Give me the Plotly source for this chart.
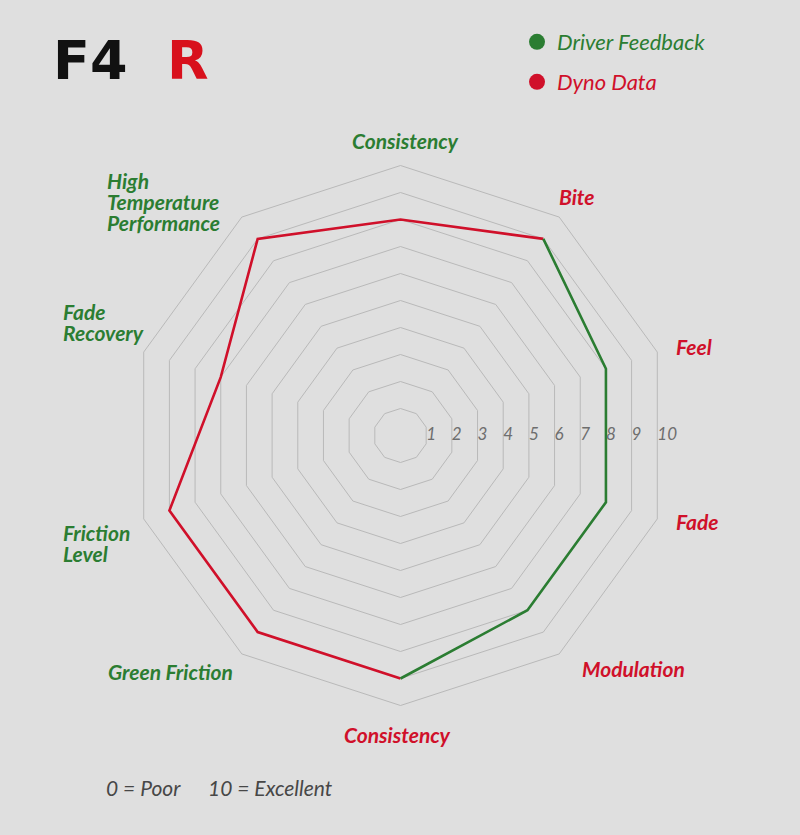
import math
import plotly.graph_objects as go

# spoke keys clockwise from the top, and the text shown for each
axis_keys = ["cons_top", "bite", "feel", "fade", "modulation",
             "cons_bottom", "green_friction", "friction_level",
             "fade_recovery", "high_temp"]
axis_labels = [["Consistency"], ["Bite"], ["Feel"], ["Fade"], ["Modulation"],
               ["Consistency"], ["Green Friction"], ["Friction", "Level"],
               ["Fade", "Recovery"], ["High", "Temperature", "Performance"]]
label_is_green = [True, False, False, False, False,
                  False, True, True, True, True]

# series values
driver_theta = ["bite", "feel", "fade", "modulation", "cons_bottom"]
driver_r = [9, 8, 8, 8, 9]
dyno_theta = ["cons_bottom", "green_friction", "friction_level",
              "fade_recovery", "high_temp", "cons_top", "bite"]
dyno_r = [9, 9, 9, 7, 9, 8, 9]

scale_ticks = list(range(1, 11))

GREEN = "#2b7d32"
RED = "#d0102a"
BG = "#dfdfdf"
GRID = "#b9b9b9"

# label positions in px (centre x, centre y of first line), anchor
label_pos = [
    (405, 140, "center"), (577, 196, "center"), (694, 346, "center"),
    (697, 521, "center"), (633, 668, "center"), (397, 734, "center"),
    (170, 671, "center"), (61, 532, "left"), (61, 311, "left"),
    (105, 180, "left"),
]
LINE_H = 21.5

W, H = 800, 835
dom_x = [130.5 / W, 670.5 / W]
dom_y = [129.5 / H, 669.5 / H]

fig = go.Figure()

fig.add_trace(go.Scatterpolar(
    r=dyno_r, theta=dyno_theta, mode="lines",
    line=dict(color=RED, width=2.6), showlegend=False, subplot="polar",
))
fig.add_trace(go.Scatterpolar(
    r=driver_r, theta=driver_theta, mode="lines",
    line=dict(color=GREEN, width=2.6), showlegend=False, subplot="polar",
))

# legend entries (dots only)
fig.add_trace(go.Scatterpolar(
    r=[None], theta=[None], mode="markers", name="Driver Feedback",
    marker=dict(color=GREEN, size=18), legend="legend", subplot="polar2",
))
fig.add_trace(go.Scatterpolar(
    r=[None], theta=[None], mode="markers", name="Dyno Data",
    marker=dict(color=RED, size=18), legend="legend2", subplot="polar2",
))

# scale numbers 1..10 sitting just outside each ring's flat right edge
flat = math.cos(math.radians(18))
fig.add_trace(go.Scatterpolar(
    r=[t * flat for t in scale_ticks], theta=[0] * len(scale_ticks),
    mode="text", text=[str(t) for t in scale_ticks],
    textposition="middle right",
    textfont=dict(family="Lato", size=17, color="#6e6e6e", style="italic"),
    showlegend=False, hoverinfo="skip", subplot="polar2",
))

annotations = []
for lines, green, (x, y, anchor) in zip(axis_labels, label_is_green, label_pos):
    for i, line in enumerate(lines):
        annotations.append(dict(
            text=line, x=x / W, y=1 - (y + i * LINE_H) / H,
            xref="paper", yref="paper", xanchor=anchor, yanchor="middle",
            showarrow=False,
            font=dict(family="Lato", size=21, weight="bold", style="italic",
                      color=GREEN if green else RED),
        ))

# footer scale note
annotations.append(dict(text="0 = Poor", x=104 / W, y=1 - 787 / H,
                        xref="paper", yref="paper", xanchor="left",
                        yanchor="middle", showarrow=False,
                        font=dict(family="Lato", size=21, style="italic",
                                  color="#474747")))
annotations.append(dict(text="10 = Excellent", x=206 / W, y=1 - 787 / H,
                        xref="paper", yref="paper", xanchor="left",
                        yanchor="middle", showarrow=False,
                        font=dict(family="Lato", size=21, style="italic",
                                  color="#474747")))

# logo
for txt, cx, col in [("F4", 90, "#111111"), ("R", 188, "#d8101c")]:
    annotations.append(dict(text=txt, x=cx / W, y=1 - 60 / H,
                            xref="paper", yref="paper", xanchor="center",
                            yanchor="middle", showarrow=False,
                            font=dict(family="DejaVu Sans", size=54,
                                      weight="bold", color=col)))

fig.update_layout(
    width=W, height=H,
    margin=dict(l=0, r=0, t=0, b=0),
    paper_bgcolor=BG, plot_bgcolor=BG,
    annotations=annotations,
    polar=dict(
        domain=dict(x=dom_x, y=dom_y),
        bgcolor="rgba(0,0,0,0)",
        gridshape="linear",
        angularaxis=dict(
            type="category", categoryorder="array", categoryarray=axis_keys,
            rotation=90, direction="clockwise",
            showgrid=False, showticklabels=False, ticks="",
            showline=True, linecolor=GRID, linewidth=1,
        ),
        radialaxis=dict(
            range=[0, 10], dtick=1, showgrid=True, gridcolor=GRID, gridwidth=1,
            showline=False, showticklabels=False, ticks="",
        ),
    ),
    polar2=dict(
        domain=dict(x=dom_x, y=dom_y),
        bgcolor="rgba(0,0,0,0)",
        angularaxis=dict(visible=False, rotation=0, direction="counterclockwise"),
        radialaxis=dict(visible=False, range=[0, 10]),
    ),
    legend=dict(
        x=517 / W, y=1 - 42 / H, xanchor="left", yanchor="middle",
        bgcolor="rgba(0,0,0,0)", itemsizing="trace",
        font=dict(family="Lato", size=22, style="italic", color=GREEN),
    ),
    legend2=dict(
        x=517 / W, y=1 - 82 / H, xanchor="left", yanchor="middle",
        bgcolor="rgba(0,0,0,0)", itemsizing="trace",
        font=dict(family="Lato", size=22, style="italic", color=RED),
    ),
)

fig.write_html("out.html", config={"displayModeBar": False},
               post_script="document.body.style.margin='0';")
